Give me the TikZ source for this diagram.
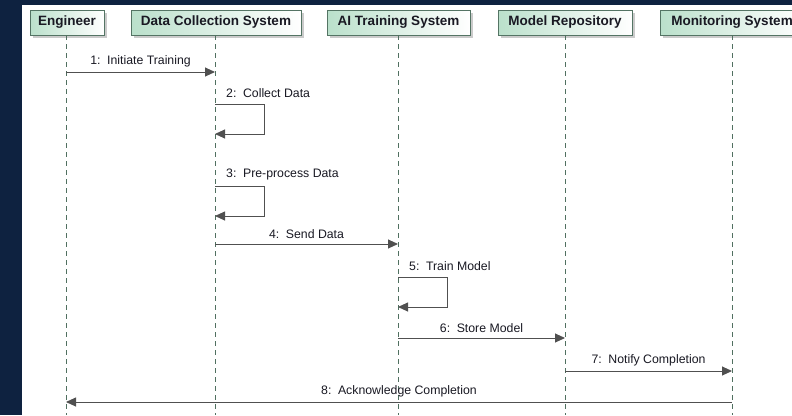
\documentclass[tikz,border=0pt]{standalone}
\usepackage{fontspec}
\setmainfont{Liberation Sans}
\usetikzlibrary{arrows.meta,shadows}
\definecolor{navy}{RGB}{14,34,64}
\definecolor{headl}{RGB}{186,224,203}
\definecolor{headb}{RGB}{84,116,100}
\definecolor{lifec}{RGB}{80,112,96}
\definecolor{msgc}{RGB}{80,80,80}
\definecolor{txtc}{RGB}{25,25,35}
\begin{document}
\begin{tikzpicture}[x=1pt,y=-1pt,
  head/.style={draw=headb, line width=1pt, left color=headl, right color=white,
    minimum height=25pt, inner sep=0pt,
    font=\fontsize{13.5}{15}\selectfont\bfseries, text=txtc,
    drop shadow={shadow xshift=3pt, shadow yshift=-3pt, fill=black!40, opacity=0.5}},
  life/.style={draw=lifec, line width=0.9pt, dash pattern=on 5pt off 4pt},
  msg/.style={draw=msgc, line width=0.9pt, -{Triangle[length=10pt,width=9pt]}, color=msgc},
  lbl/.style={font=\fontsize{12.3}{14}\selectfont, text=txtc, inner sep=1pt}
]
\useasboundingbox (0,0) rectangle (792,415);
\clip (0,0) rectangle (792,415);
\fill[navy] (0,0) rectangle (792,415);
\fill[white] (22,5) rectangle (792,415);

% heads
\node[head, minimum width=74pt]  (eng) at (67,22.5)  {Engineer};
\node[head, minimum width=170pt] (dcs) at (216,22.5) {Data Collection System};
\node[head, minimum width=143pt] (ais) at (398.5,22.5) {AI Training System};
\node[head, minimum width=134pt] (mr)  at (565,22.5) {Model Repository};
\node[head, minimum width=144pt] (ms)  at (732,22.5) {Monitoring System};

% lifeline ends
\coordinate (engB) at (66,415);
\coordinate (dcsB) at (215,415);
\coordinate (aisB) at (398,415);
\coordinate (mrB)  at (565,415);
\coordinate (msB)  at (732,415);
\draw[life] (66,35) -- (engB);
\draw[life] (215,35) -- (dcsB);
\draw[life] (398,35) -- (aisB);
\draw[life] (565,35) -- (mrB);
\draw[life] (732,35) -- (msB);

% message endpoints
\coordinate (m1a) at (66,72);   \coordinate (m1b) at (215,72);
\coordinate (m2a) at (215,104); \coordinate (m2b) at (215,134);
\coordinate (m3a) at (215,186); \coordinate (m3b) at (215,216);
\coordinate (m4a) at (215,244); \coordinate (m4b) at (398,244);
\coordinate (m5a) at (398,277); \coordinate (m5b) at (398,307);
\coordinate (m6a) at (398,338); \coordinate (m6b) at (565,338);
\coordinate (m7a) at (565,371); \coordinate (m7b) at (732,371);
\coordinate (m8a) at (732,402); \coordinate (m8b) at (66,402);

\draw[msg] (m1a) -- node[lbl, above=3.5pt] {1:\, Initiate Training} (m1b);
\draw[msg] (m2a) -- ++(49,0) |- (m2b);
\node[lbl, anchor=south west] at ([shift={(10,-5)}]m2a) {2:\, Collect Data};
\draw[msg] (m3a) -- ++(49,0) |- (m3b);
\node[lbl, anchor=south west] at ([shift={(10,-5)}]m3a) {3:\, Pre-process Data};
\draw[msg] (m4a) -- node[lbl, above=3.5pt] {4:\, Send Data} (m4b);
\draw[msg] (m5a) -- ++(49,0) |- (m5b);
\node[lbl, anchor=south west] at ([shift={(10,-5)}]m5a) {5:\, Train Model};
\draw[msg] (m6a) -- node[lbl, above=3.5pt] {6:\, Store Model} (m6b);
\draw[msg] (m7a) -- node[lbl, above=3.5pt] {7:\, Notify Completion} (m7b);
\draw[msg] (m8a) -- node[lbl, above=3.5pt] {8:\, Acknowledge Completion} (m8b);
\end{tikzpicture}
\end{document}
